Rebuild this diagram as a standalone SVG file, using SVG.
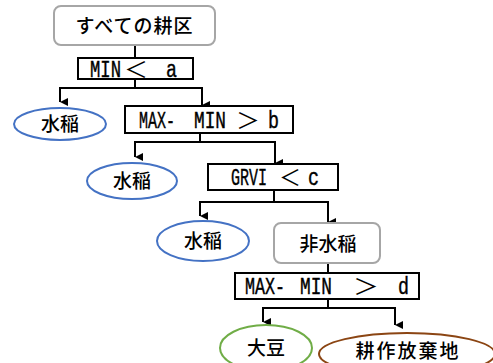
<svg xmlns="http://www.w3.org/2000/svg" width="493" height="363" viewBox="0 0 493 363">
<defs>
<marker id="ah" markerWidth="8" markerHeight="8" refX="4" refY="8" orient="auto" markerUnits="userSpaceOnUse" viewBox="0 0 8 8">
<path d="M0,0 L8,0 L4,8 Z" fill="#000"/>
</marker>
<style>
.cond{fill:#fff;stroke:#000;stroke-width:2}
.term{fill:#fff;stroke:#a6a6a6;stroke-width:2}
.ell{fill:#fff;stroke-width:2}
.jp{font-family:"Noto Sans CJK JP","Noto Sans CJK SC",sans-serif;font-size:19px;font-weight:500;fill:#000}
.lt{font-family:"Liberation Mono","DejaVu Sans Mono",monospace;font-size:23px;font-weight:normal;fill:#000;stroke:#000;stroke-width:0.4}
.sp{font-family:"Liberation Mono",monospace;font-size:4px}
.sym{font-family:"Noto Sans CJK JP",sans-serif;font-size:22px;fill:#000}
.ln{fill:none;stroke:#000;stroke-width:2}
</style>
</defs>
<g id="connectors">
<path class="ln" d="M135,45 V58"/>
<path class="ln" d="M135,79 V88 H60 V102" marker-end="url(#ah)"/>
<path class="ln" d="M135,88 H202 V105" marker-end="url(#ah)"/>
<path class="ln" d="M200,133 V142 H135 V157" marker-end="url(#ah)"/>
<path class="ln" d="M200,142 H275 V163" marker-end="url(#ah)"/>
<path class="ln" d="M274,190 V202 H200 V216" marker-end="url(#ah)"/>
<path class="ln" d="M274,202 H328 V222" marker-end="url(#ah)"/>
<path class="ln" d="M328,263 V273"/>
<path class="ln" d="M328,299 V308 H263 V322" marker-end="url(#ah)"/>
<path class="ln" d="M328,308 H395 V325" marker-end="url(#ah)"/>
</g>
<g id="all">
<rect class="term" x="54" y="6" width="161" height="39" rx="7"/>
<text class="jp" x="134.5" y="33" text-anchor="middle" font-size="20" letter-spacing="1">すべての耕区</text>
</g>
<g id="c1">
<rect class="cond" x="78" y="58" width="115" height="21"/>
<text y="77"><tspan class="lt" x="90" textLength="31" lengthAdjust="spacingAndGlyphs">MIN</tspan><tspan class="sym" x="124" textLength="24" lengthAdjust="spacingAndGlyphs">＜</tspan><tspan class="sp"> </tspan><tspan class="lt" x="166" textLength="11" lengthAdjust="spacingAndGlyphs">a</tspan></text>
</g>
<g id="r1">
<ellipse class="ell" stroke="#4472c4" cx="60" cy="124" rx="46" ry="16"/>
<text class="jp" x="60" y="131" text-anchor="middle">水稲</text>
</g>
<g id="c2">
<rect class="cond" x="125" y="106" width="168" height="27"/>
<text y="128"><tspan class="lt" x="139" textLength="36" lengthAdjust="spacingAndGlyphs">MAX-</tspan><tspan class="sp"> </tspan><tspan class="lt" x="194" textLength="32" lengthAdjust="spacingAndGlyphs">MIN</tspan><tspan class="sp"> </tspan><tspan class="sym" x="236" textLength="24" lengthAdjust="spacingAndGlyphs">＞</tspan><tspan class="sp"> </tspan><tspan class="lt" x="268" textLength="11" lengthAdjust="spacingAndGlyphs">b</tspan></text>
</g>
<g id="r2">
<ellipse class="ell" stroke="#4472c4" cx="132" cy="181" rx="45" ry="18"/>
<text class="jp" x="132" y="188" text-anchor="middle">水稲</text>
</g>
<g id="c3">
<rect class="cond" x="208" y="164" width="130" height="26"/>
<text y="185"><tspan class="lt" x="231" textLength="36" lengthAdjust="spacingAndGlyphs">GRVI</tspan><tspan class="sp"> </tspan><tspan class="sym" x="279" textLength="22" lengthAdjust="spacingAndGlyphs">＜</tspan><tspan class="sp"> </tspan><tspan class="lt" x="308" textLength="11" lengthAdjust="spacingAndGlyphs">c</tspan></text>
</g>
<g id="r3">
<ellipse class="ell" stroke="#4472c4" cx="203" cy="241" rx="46" ry="20"/>
<text class="jp" x="203" y="248" text-anchor="middle">水稲</text>
</g>
<g id="nonrice">
<rect class="term" x="274" y="223" width="106" height="40" rx="7"/>
<text class="jp" x="328" y="251" text-anchor="middle">非水稲</text>
</g>
<g id="c4">
<rect class="cond" x="235" y="273" width="184" height="26"/>
<text y="294"><tspan class="lt" x="245" textLength="40" lengthAdjust="spacingAndGlyphs">MAX-</tspan><tspan class="sp"> </tspan><tspan class="lt" x="300" textLength="32" lengthAdjust="spacingAndGlyphs">MIN</tspan><tspan class="sp"> </tspan><tspan class="sym" x="353" textLength="26" lengthAdjust="spacingAndGlyphs">＞</tspan><tspan class="sp"> </tspan><tspan class="lt" x="398" textLength="11" lengthAdjust="spacingAndGlyphs">d</tspan></text>
</g>
<g id="soy">
<ellipse class="ell" stroke="#70ad47" cx="266" cy="348" rx="46" ry="23"/>
<text class="jp" x="266" y="355" text-anchor="middle">大豆</text>
</g>
<g id="abandoned">
<ellipse class="ell" stroke="#8b4513" cx="407" cy="354" rx="88" ry="21"/>
<text class="jp" x="408" y="358" text-anchor="middle" letter-spacing="2">耕作放棄地</text>
</g>
</svg>
